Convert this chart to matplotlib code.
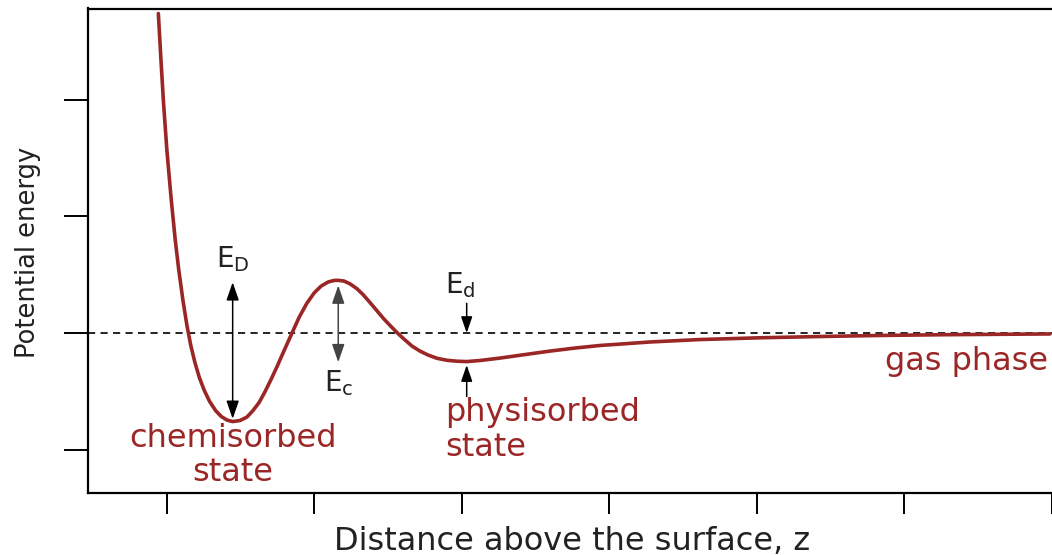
import matplotlib
matplotlib.use("Agg")
import matplotlib.pyplot as plt

# Potential energy of an adsorbate versus distance above the surface
z = [0.943, 0.961, 0.977, 1.001, 1.031, 1.058, 1.082, 1.110, 1.137, 1.163,
     1.191, 1.221, 1.255, 1.291, 1.331, 1.370, 1.409, 1.447, 1.497, 1.544,
     1.585, 1.626, 1.667, 1.707, 1.748, 1.796, 1.847, 1.897, 1.949, 1.999,
     2.047, 2.095, 2.134, 2.163, 2.202, 2.243, 2.288, 2.331, 2.378, 2.424,
     2.473, 2.521, 2.570, 2.616, 2.663, 2.717, 2.772, 2.833, 2.900, 2.968,
     3.034, 3.124, 3.260, 3.429, 3.599, 3.768, 3.938, 4.277, 4.616, 5.022,
     5.429, 5.836, 6.243, 6.650, 6.989]
energy = [2.742, 2.339, 1.996, 1.567, 1.137, 0.794, 0.536, 0.279, 0.064, -0.107,
          -0.253, -0.382, -0.494, -0.588, -0.665, -0.717, -0.747, -0.760, -0.751, -0.721,
          -0.665, -0.597, -0.502, -0.399, -0.288, -0.150, -0.007, 0.133, 0.253, 0.343,
          0.403, 0.438, 0.451, 0.452, 0.446, 0.422, 0.382, 0.330, 0.262, 0.193,
          0.120, 0.056, -0.007, -0.060, -0.112, -0.155, -0.189, -0.217, -0.234, -0.242,
          -0.245, -0.236, -0.215, -0.185, -0.155, -0.129, -0.107, -0.077, -0.056, -0.041,
          -0.030, -0.021, -0.015, -0.011, -0.008]

x_ticks = [1, 2, 3, 4, 5, 6, 7]
y_ticks = [-1, 0, 1, 2]

# Energy markers: (z, lower end, upper end)
chem_depth = (1.447, -0.737, 0.436)      # E_D
barrier = (2.163, -0.251, 0.408)         # E_c
phys_z = 3.034
phys_min = -0.245                        # E_d

RED = "#9b2626"
INK = "#222222"

fig = plt.figure(figsize=(10.52, 5.55), dpi=100)
ax = fig.add_axes([88 / 1052, 62 / 555, 964 / 1052, 484.5 / 555])

ax.plot(z, energy, color=RED, lw=2.6, solid_capstyle="round",
        solid_joinstyle="round", zorder=3)
ax.axhline(0, color="black", lw=1.2, dashes=(4.3, 3.2), zorder=2)

ax.set_xlim(0.466, 7.003)
ax.set_ylim(-1.373, 2.785)
ax.set_xticks(x_ticks)
ax.set_yticks(y_ticks)
ax.set_xticklabels([])
ax.set_yticklabels([])
ax.tick_params(axis="x", direction="out", length=15, width=1.4, color="black")
ax.tick_params(axis="y", direction="out", length=17, width=1.4, color="black")
ax.spines["right"].set_visible(False)
for s in ("left", "bottom", "top"):
    ax.spines[s].set_linewidth(1.6)

arrow_kw = dict(arrowstyle="<|-|>,head_length=0.55,head_width=0.19", color="black",
                lw=1.1, mutation_scale=20, shrinkA=0, shrinkB=0)

# E_D: chemisorption well depth
ax.annotate("", xy=(chem_depth[0], chem_depth[1]), xytext=(chem_depth[0], chem_depth[2]),
            arrowprops=arrow_kw)
ax.text(chem_depth[0], chem_depth[2] + 0.07, r"E$_\mathregular{D}$", ha="center", va="bottom",
        fontsize=20, color=INK)

# E_c: activation barrier
ax.annotate("", xy=(barrier[0], barrier[1]), xytext=(barrier[0], barrier[2]),
            arrowprops=dict(arrow_kw, color="#444444"))
ax.text(barrier[0], barrier[1] - 0.05, r"E$_\mathregular{c}$", ha="center", va="top",
        fontsize=20, color=INK)

# E_d: physisorption well depth
one_kw = dict(arrowstyle="-|>,head_length=0.55,head_width=0.19", color="black",
              lw=1.1, mutation_scale=18, shrinkA=0, shrinkB=0)
ax.annotate("", xy=(phys_z, 0.0), xytext=(phys_z, 0.255), arrowprops=one_kw)
ax.annotate("", xy=(phys_z, phys_min - 0.03), xytext=(phys_z, phys_min - 0.30), arrowprops=one_kw)
ax.text(phys_z - 0.145, 0.28, r"E$_\mathregular{d}$", ha="left", va="bottom",
        fontsize=20, color=INK)

# State labels
ax.text(chem_depth[0], -0.77, "chemisorbed\nstate", ha="center", va="top",
        fontsize=23, color=RED, linespacing=1.12)
ax.text(2.89, -0.55, "physisorbed\nstate", ha="left", va="top",
        fontsize=23, color=RED, linespacing=1.15)
ax.text(6.98, -0.11, "gas phase", ha="right", va="top", fontsize=23, color=RED)

# Axis titles
fig.text(572.5 / 1052, 5 / 555, "Distance above the surface, z", ha="center",
         va="baseline", fontsize=23, color=INK)
fig.text(28 / 1052, (555 - 252.5) / 555, "Potential energy", rotation=90,
         ha="center", va="center", fontsize=18.5, color=INK)

fig.savefig("out.png", dpi=100)
